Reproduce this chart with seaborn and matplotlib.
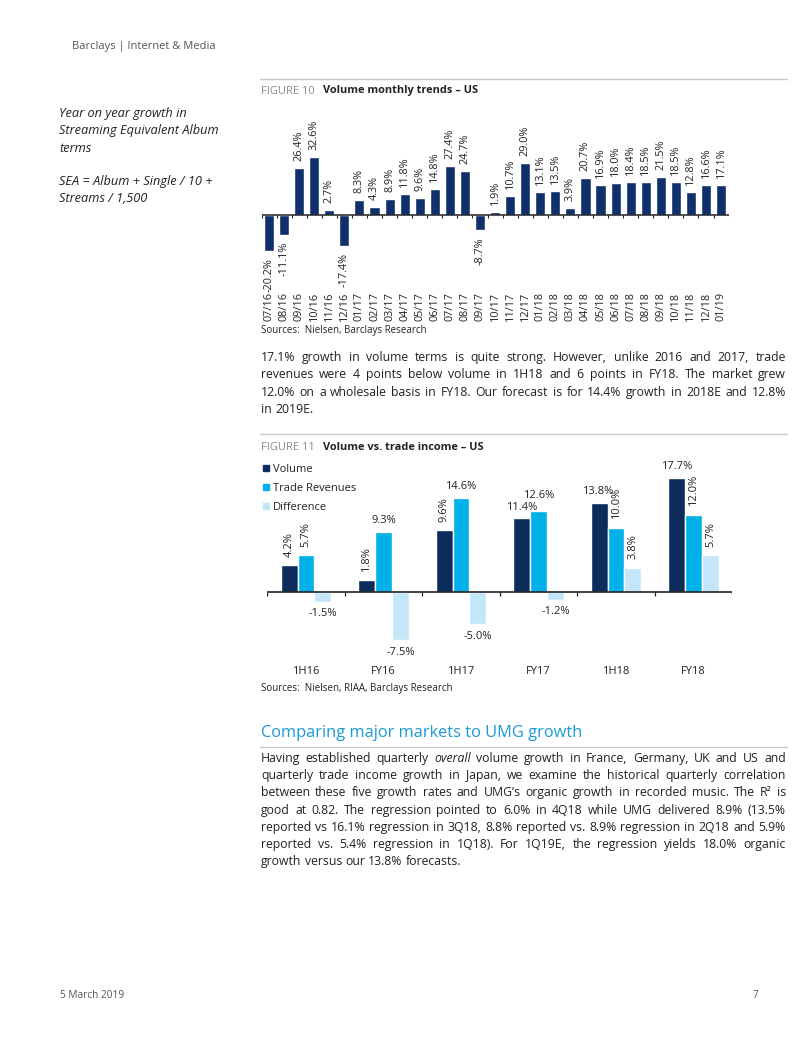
import numpy as np
import pandas as pd
import matplotlib
matplotlib.use("Agg")
import matplotlib.pyplot as plt
import seaborn as sns
from matplotlib.lines import Line2D

# figure 10 data: monthly yoy volume growth, US (SEA terms)
months = ["07/16", "08/16", "09/16", "10/16", "11/16", "12/16", "01/17", "02/17",
          "03/17", "04/17", "05/17", "06/17", "07/17", "08/17", "09/17", "10/17",
          "11/17", "12/17", "01/18", "02/18", "03/18", "04/18", "05/18", "06/18",
          "07/18", "08/18", "09/18", "10/18", "11/18", "12/18", "01/19"]
volume_yoy = [-20.2, -11.1, 26.4, 32.6, 2.7, -17.4, 8.3, 4.3, 8.9, 11.8, 9.6, 14.8,
              27.4, 24.7, -8.7, 1.9, 10.7, 29.0, 13.1, 13.5, 3.9, 20.7, 16.9, 18.0,
              18.4, 18.5, 21.5, 18.5, 12.8, 16.6, 17.1]

# figure 11 data: volume vs trade income
periods = ["1H16", "FY16", "1H17", "FY17", "1H18", "FY18"]
series = ["Volume", "Trade Revenues", "Difference"]
volume = [4.2, 1.8, 9.6, 11.4, 13.8, 17.7]
trade_rev = [5.7, 9.3, 14.6, 12.6, 10.0, 12.0]
difference = [-1.5, -7.5, -5.0, -1.2, 3.8, 5.7]

W, H = 802, 1037
NAVY = "#10306b"
NAVY2 = "#0c2d5c"
CYAN = "#00b0e8"
PALE = "#c3e7f8"
TXT = "#222222"


def fx(x):
    return x / W


def fy(y):
    return 1 - y / H


sns.set_style("white")
plt.rcParams["font.family"] = ["Open Sans", "DejaVu Sans"]

fig = plt.figure(figsize=(W / 100, H / 100), dpi=100)

# ---- figure 10 ----
ax1 = fig.add_axes([fx(261.5), fy(289), (728.6 - 261.5) / W, (289 - 110) / H])
sns.barplot(x=months, y=volume_yoy, color=NAVY, saturation=1, width=0.67, ax=ax1)
ax1.set_xlim(-0.5, len(months) - 0.5)
ax1.set_ylim(-41.6, 59.0)
ax1.axhline(0, color=TXT, lw=1.1)
ax1.vlines(np.arange(len(months) + 1) - 0.5, -1.6, 0, color=TXT, lw=0.8)
sns.despine(ax=ax1, left=True, bottom=True)
ax1.set_yticks([])
ax1.set_xlabel("")
ax1.set_ylabel("")
ax1.tick_params(axis="x", length=0, pad=2, labelsize=7.8, labelcolor=TXT, labelrotation=90)
for i, v in enumerate(volume_yoy):
    ax1.annotate(f"{v:.1f}%", (i, v), xytext=(0, 5 if v >= 0 else -5),
                 textcoords="offset points", rotation=90, ha="center",
                 va="bottom" if v >= 0 else "top", fontsize=7.8, color=TXT)

# ---- figure 11 ----
df = pd.DataFrame({
    "period": periods * 3,
    "series": [s for s in series for _ in periods],
    "value": volume + trade_rev + difference,
})
ax2 = fig.add_axes([fx(267.3), fy(660), (732.3 - 267.3) / W, (660 - 458) / H])
sns.barplot(data=df, x="period", y="value", hue="series", palette=[NAVY2, CYAN, PALE],
            saturation=1, width=0.65, ax=ax2, legend=False)
ax2.set_xlim(-0.5, len(periods) - 0.5)
ax2.set_ylim(-10.54, 20.78)
ax2.axhline(0, color=TXT, lw=1.2)
ax2.vlines(np.arange(len(periods) + 1) - 0.5, -0.6, 0, color=TXT, lw=0.9)
sns.despine(ax=ax2, left=True, bottom=True)
ax2.set_yticks([])
ax2.set_xlabel("")
ax2.set_ylabel("")
ax2.tick_params(axis="x", length=0, pad=4, labelsize=8, labelcolor=TXT)

# 90 = vertical label, 0 = horizontal label
label_rot = [[90, 90, 90, 0, 0, 0],
             [90, 0, 0, 0, 90, 90],
             [0, 0, 0, 0, 90, 90]]
# a few labels sit slightly off the default spot in the original (points)
nudge = {(1, 3): (0, 3), (0, 4): (-1.5, 0)}
vals = [volume, trade_rev, difference]
for k, cont in enumerate(ax2.containers):
    for i, bar in enumerate(cont):
        v = vals[k][i]
        cx = bar.get_x() + bar.get_width() / 2
        dx, dy = nudge.get((k, i), (0, 0))
        if v < 0:
            ax2.annotate(f"{v:.1f}%", (cx, v), xytext=(dx, -4.5 + dy), textcoords="offset points",
                         ha="center", va="top", fontsize=8, color=TXT)
        elif label_rot[k][i] == 90:
            ax2.annotate(f"{v:.1f}%", (cx, v), xytext=(dx, 6 + dy), textcoords="offset points",
                         rotation=90, ha="center", va="bottom", fontsize=8, color=TXT)
        else:
            ax2.annotate(f"{v:.1f}%", (cx, v), xytext=(dx, 4 + dy), textcoords="offset points",
                         ha="center", va="bottom", fontsize=8, color=TXT)

handles = [Line2D([], [], marker="s", ls="", color=c, markersize=4.3)
           for c in [NAVY2, CYAN, PALE]]
ax2.legend(handles, series, loc="upper left", bbox_to_anchor=(fx(263), fy(464)),
           bbox_transform=fig.transFigure, frameon=False, fontsize=8, handlelength=0.6,
           handletextpad=0.3, labelspacing=0.72, borderaxespad=0, borderpad=0,
           labelcolor=TXT)

# ---- page furniture ----
RULE = "#c8c8c8"
for y in [79, 434, 747]:
    fig.add_artist(Line2D([fx(260), fx(787)], [fy(y), fy(y)], color=RULE, lw=1,
                          transform=fig.transFigure))

fig.text(fx(72), fy(46), "Barclays | Internet & Media", fontsize=8, color="#555555", va="center")
fig.text(fx(60), fy(995), "5 March 2019", fontsize=7.3, color="#555555", va="center")
fig.text(fx(755), fy(995), "7", fontsize=7.3, color="#555555", va="center", ha="center")

side = ["Year on year growth in", "Streaming Equivalent Album", "terms", "",
        "SEA = Album + Single / 10 +", "Streams / 1,500"]
for n, s in enumerate(side):
    fig.text(fx(59), fy(114 + n * 17), s, fontsize=9.2, style="italic", color=TXT, va="center")

fig.text(fx(261), fy(91), "FIGURE 10", fontsize=8, color="#8a8a8a", va="center")
fig.text(fx(323), fy(91), "Volume monthly trends – US", fontsize=7.9, weight="bold",
         color=TXT, va="center")
fig.text(fx(261), fy(448), "FIGURE 11", fontsize=8, color="#8a8a8a", va="center")
fig.text(fx(323), fy(448), "Volume vs. trade income – US", fontsize=7.9, weight="bold",
         color=TXT, va="center")
fig.text(fx(261), fy(331), "Sources:  Nielsen, Barclays Research", fontsize=7, color=TXT, va="center")
fig.text(fx(261), fy(688), "Sources:  Nielsen, RIAA, Barclays Research", fontsize=7, color=TXT,
         va="center")

fig.text(fx(261), fy(733), "Comparing major markets to UMG growth", fontsize=11.8,
         color="#1a9ad6", va="center")

para1 = [
    "17.1% growth in volume terms is quite strong.  However, unlike 2016 and 2017, trade",
    "revenues were 4 points below volume in 1H18 and 6 points in FY18.  The market grew",
    "12.0% on a wholesale basis in FY18. Our forecast is for 14.4% growth in 2018E and 12.8%",
    "in 2019E.",
]
para2 = [
    "Having established quarterly _overall_ volume growth in France, Germany, UK and US and",
    "quarterly trade income growth in Japan, we examine the historical quarterly correlation",
    "between these five growth rates and UMG’s organic growth in recorded music. The R² is",
    "good at 0.82. The regression pointed to 6.0% in 4Q18 while UMG delivered 8.9% (13.5%",
    "reported vs 16.1% regression in 3Q18, 8.8% reported vs. 8.9% regression in 2Q18 and 5.9%",
    "reported vs. 5.4% regression in 1Q18).  For 1Q19E, the regression yields 18.0% organic",
    "growth versus our 13.8% forecasts.",
]


def justified(lines, x0, x1, y0, dy, size):
    r = fig.canvas.get_renderer()
    space = size * 100 / 72 * 0.26
    for n, line in enumerate(lines):
        y = y0 + n * dy
        arts = []
        for w in line.split():
            st = "normal"
            if w.startswith("_") and w.endswith("_"):
                w, st = w[1:-1], "italic"
            arts.append(fig.text(fx(x0), fy(y), w, fontsize=size, style=st, color=TXT,
                                 va="baseline"))
        widths = [a.get_window_extent(r).width for a in arts]
        if n == len(lines) - 1 or len(arts) < 2:
            gap = space
        else:
            gap = max(space * 0.6, (x1 - x0 - sum(widths)) / (len(arts) - 1))
        x = x0
        for a, w in zip(arts, widths):
            a.set_x(fx(x))
            x += w + gap


justified(para1, 261, 786, 361, 17.4, 8.8)
justified(para2, 261, 786, 762, 17.2, 8.8)

fig.savefig("out.png", dpi=100)
